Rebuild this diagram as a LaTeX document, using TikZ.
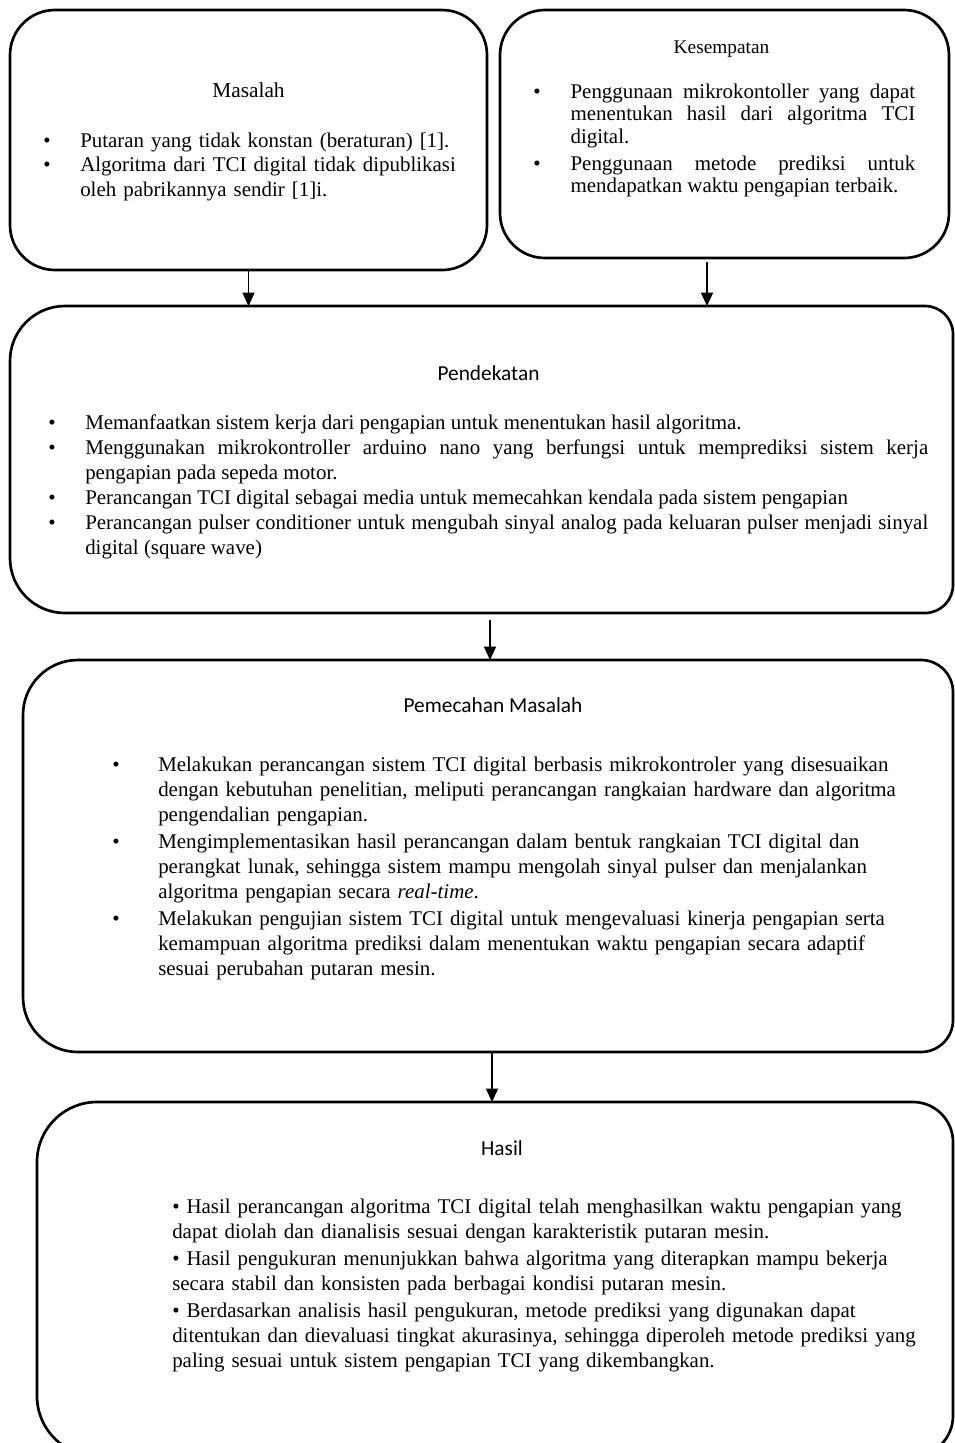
\documentclass[tikz,border=0pt]{standalone}
\usepackage{fontspec}
\setmainfont{Liberation Serif}
\setsansfont{Carlito}
\usetikzlibrary{arrows.meta}

\newlength{\lekuk}
\newcommand{\butir}[1]{\hangindent=\lekuk\hangafter=1\makebox[\lekuk][l]{\textbullet}#1\par}

\tikzset{
  kotak/.style 2 args={minimum width=#1*0.75pt, minimum height=#2*0.75pt, inner sep=0pt, outer sep=0pt},
  garis/.style={line width=2pt},
  panah/.style={line width=1pt, -{Triangle[length=10pt,width=9pt]}},
  judul/.style={anchor=base, inner sep=0pt, font=\fontsize{16}{19}\selectfont},
  isi/.style={anchor=base west, inner sep=0pt}
}

\begin{document}
\begin{tikzpicture}[x=0.75pt,y=-0.75pt]
\clip (0,0) rectangle (955,1443);
% kotak-kotak
\node[kotak={477}{260}] (masalah) at (248.5,140) {};
\node[kotak={449}{248}] (kesempatan) at (724.5,134) {};
\node[kotak={943}{307}] (pendekatan) at (481.5,459.5) {};
\node[kotak={930}{392}] (pemecahan) at (488,856) {};
\node[kotak={916}{354}] (hasil) at (495,1279) {};
\path[draw,garis,rounded corners=33.75pt] (masalah.north west) rectangle (masalah.south east);
\path[draw,garis,rounded corners=33.75pt] (kesempatan.north west) rectangle (kesempatan.south east);
\path[draw,garis] (pendekatan.north) [rounded corners=21pt] -- (pendekatan.north east) -- (pendekatan.south east) -- (pendekatan.south) [rounded corners=41.25pt] -- (pendekatan.south west) -- (pendekatan.north west) -- cycle;
\path[draw,garis] (pemecahan.north) [rounded corners=24pt] -- (pemecahan.north east) -- (pemecahan.south east) -- (pemecahan.south) [rounded corners=41.25pt] -- (pemecahan.south west) -- (pemecahan.north west) -- cycle;
\path[draw,garis] (hasil.north) [rounded corners=30pt] -- (hasil.north east) -- (hasil.south east) -- (hasil.south) [rounded corners=45pt] -- (hasil.south west) -- (hasil.north west) -- cycle;
% judul
\node[judul] (judulmasalah) at (248.5,97) {Masalah};
\node[judul,font=\fontsize{14.5}{17}\selectfont] (judulkesempatan) at (721.5,53) {Kesempatan};
\node[judul,font=\sffamily\fontsize{16}{19}\selectfont] (judulpendekatan) at (488.5,380) {Pendekatan};
\node[judul,font=\sffamily\fontsize{16}{19}\selectfont] (judulpemecahan) at (493,712) {Pemecahan Masalah};
\node[judul,font=\sffamily\fontsize{16}{19}\selectfont] (judulhasil) at (502,1155) {Hasil};
% isi
\node[isi,text width=330pt,align=left,font=\fontsize{15.7}{18.5}\selectfont] (isimasalah) at (43,147) {%
\setlength{\lekuk}{27.75pt}%
\butir{Putaran yang tidak konstan (beraturan) [1].}%
\butir{Algoritma dari TCI digital tidak dipublikasi\newline oleh pabrikannya sendir [1]i.}};
\node[isi,text width=286.5pt,align=justify,font=\fontsize{15.7}{17}\selectfont] (isikesempatan) at (533,98) {%
\setlength{\lekuk}{28pt}\setlength{\parskip}{3pt}%
\butir{Penggunaan mikrokontoller yang dapat\linebreak menentukan hasil dari algoritma TCI\linebreak digital.}%
\butir{Penggunaan metode prediksi untuk\linebreak mendapatkan waktu pengapian terbaik.}};
\node[isi,text width=660pt,align=justify,font=\fontsize{15.7}{18.75}\selectfont] (isipendekatan) at (48,429) {%
\setlength{\lekuk}{27.75pt}%
\butir{Memanfaatkan sistem kerja dari pengapian untuk menentukan hasil algoritma.}%
\butir{Menggunakan mikrokontroller arduino nano yang berfungsi untuk memprediksi sistem kerja\linebreak pengapian pada sepeda motor.}%
\butir{Perancangan TCI digital sebagai media untuk memecahkan kendala pada sistem pengapian}%
\butir{Perancangan pulser conditioner untuk mengubah sinyal analog pada keluaran pulser menjadi sinyal\linebreak digital (square wave)}};
\node[isi,text width=600pt,align=left,font=\fontsize{15.7}{18.75}\selectfont] (isipemecahan) at (112,771) {%
\setlength{\lekuk}{34.5pt}\setlength{\parskip}{1.5pt}%
\butir{Melakukan perancangan sistem TCI digital berbasis mikrokontroler yang disesuaikan\newline dengan kebutuhan penelitian, meliputi perancangan rangkaian hardware dan algoritma\newline pengendalian pengapian.}%
\butir{Mengimplementasikan hasil perancangan dalam bentuk rangkaian TCI digital dan\newline perangkat lunak, sehingga sistem mampu mengolah sinyal pulser dan menjalankan\newline algoritma pengapian secara \textit{real-time}.}%
\butir{Melakukan pengujian sistem TCI digital untuk mengevaluasi kinerja pengapian serta\newline kemampuan algoritma prediksi dalam menentukan waktu pengapian secara adaptif\newline sesuai perubahan putaran mesin.}};
\node[isi,text width=585pt,align=left,font=\fontsize{15.7}{19}\selectfont] (isihasil) at (172,1213) {%
\setlength{\parskip}{1pt}%
\textbullet\ Hasil perancangan algoritma TCI digital telah menghasilkan waktu pengapian yang\newline dapat diolah dan dianalisis sesuai dengan karakteristik putaran mesin.\par
\textbullet\ Hasil pengukuran menunjukkan bahwa algoritma yang diterapkan mampu bekerja\newline secara stabil dan konsisten pada berbagai kondisi putaran mesin.\par
\textbullet\ Berdasarkan analisis hasil pengukuran, metode prediksi yang digunakan dapat\newline ditentukan dan dievaluasi tingkat akurasinya, sehingga diperoleh metode prediksi yang\newline paling sesuai untuk sistem pengapian TCI yang dikembangkan.};
% panah
\coordinate (kesempatanbawah) at (707,262);
\coordinate (pendekatanbawah) at (490,620);
\coordinate (pemecahanbawah) at (492,1052);
\path[draw,panah] (masalah.south) -- (masalah.south |- pendekatan.north);
\path[draw,panah] (kesempatanbawah) -- (kesempatanbawah |- pendekatan.north);
\path[draw,panah] (pendekatanbawah) -- (pendekatanbawah |- pemecahan.north);
\path[draw,panah] (pemecahanbawah) -- (pemecahanbawah |- hasil.north);
\end{tikzpicture}
\end{document}
